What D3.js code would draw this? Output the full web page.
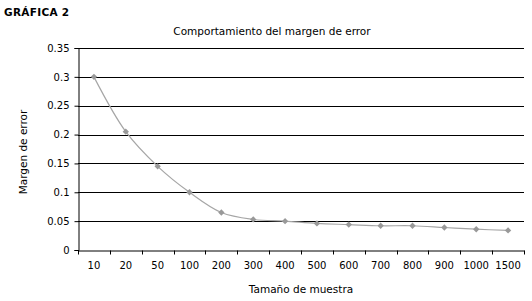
<!DOCTYPE html>
<html>
<head>
<meta charset="utf-8">
<script src="https://cdn.jsdelivr.net/npm/d3@7"></script>
<style>
    body { margin: 0; background: #fff; }
    text { font-family: 'DejaVu Sans', sans-serif; fill: #000; }
</style>
</head>
<body>
<div id="viz"></div>
<script>
const sizes = ['10', '20', '50', '100', '200', '300', '400', '500', '600', '700', '800', '900', '1000', '1500']
const errors = [0.30, 0.205, 0.145, 0.10, 0.065, 0.053, 0.05, 0.046, 0.044, 0.042, 0.042, 0.039, 0.036, 0.034]
const yTicks = [0, 0.05, 0.1, 0.15, 0.2, 0.25, 0.3, 0.35]

const data = sizes.map((s, i) => ({ size: s, err: errors[i] }))

render = (data) => {
    const w = 532, h = 301
    const margin = { top: 48, right: 8, bottom: 51, left: 78 }
    const innerWidth = w - margin.left - margin.right
    const innerHeight = h - margin.top - margin.bottom

    const svg = d3.select('#viz')
        .append('svg')
        .attr('width', w)
        .attr('height', h)

    svg.append('text')
        .attr('x', 4)
        .attr('y', 16)
        .style('font-size', '10.5px')
        .style('font-weight', '600')
        .style('letter-spacing', '0.3px')
        .text('GRÁFICA 2')

    svg.append('text')
        .attr('x', 272)
        .attr('y', 35)
        .attr('text-anchor', 'middle')
        .style('font-size', '10.5px')
        .text('Comportamiento del margen de error')

    const g = svg.append('g')
        .attr('transform', `translate(${margin.left}, ${margin.top})`)

    const x = d3.scaleBand()
        .domain(data.map(d => d.size))
        .range([0, innerWidth])

    const y = d3.scaleLinear()
        .domain([0, 0.35])
        .range([innerHeight, 0])

    // grid
    g.selectAll('.grid')
        .data(yTicks.slice(1))
        .enter()
        .append('line')
        .attr('x1', 0)
        .attr('x2', innerWidth)
        .attr('y1', d => Math.round(y(d)) + 0.5)
        .attr('y2', d => Math.round(y(d)) + 0.5)
        .attr('stroke', '#000')

    const yAxisG = g.append('g')
        .attr('transform', 'translate(0.5,0)')
        .call(d3.axisLeft(y).tickValues(yTicks).tickSize(4).tickPadding(5).tickFormat(d3.format('')))
    yAxisG.selectAll('text').style('font-size', '10px')

    const xAxisG = g.append('g')
        .attr('transform', `translate(0, ${innerHeight + 0.5})`)
        .call(d3.axisBottom(x).tickSize(0).tickPadding(11))
    xAxisG.selectAll('text').style('font-size', '10px')
    // tick marks sit between categories
    xAxisG.selectAll('.band-tick')
        .data(x.domain().concat(['end']))
        .enter()
        .append('line')
        .attr('x1', (d, i) => Math.round(i * x.step()) + 0.5)
        .attr('x2', (d, i) => Math.round(i * x.step()) + 0.5)
        .attr('y1', 0)
        .attr('y2', 4)
        .attr('stroke', '#000')

    g.append('text')
        .attr('transform', 'rotate(-90)')
        .attr('x', -innerHeight / 2 - 3)
        .attr('y', -51)
        .attr('text-anchor', 'middle')
        .style('font-size', '10.5px')
        .text('Margen de error')

    g.append('text')
        .attr('x', 223)
        .attr('y', innerHeight + 43)
        .attr('text-anchor', 'middle')
        .style('font-size', '10.5px')
        .text('Tamaño de muestra')

    const line = d3.line()
        .x(d => x(d.size) + x.bandwidth() / 2)
        .y(d => y(d.err))
        .curve(d3.curveCatmullRom.alpha(0.5))

    g.append('path')
        .datum(data)
        .attr('fill', 'none')
        .attr('stroke', '#a6a6a6')
        .attr('stroke-width', 1.2)
        .attr('d', line)

    g.selectAll('.pt')
        .data(data)
        .enter()
        .append('path')
        .attr('d', d3.symbol(d3.symbolSquare, 20))
        .attr('transform', d => `translate(${x(d.size) + x.bandwidth() / 2}, ${y(d.err)}) rotate(45)`)
        .attr('fill', '#999')
}

render(data)
</script>
</body>
</html>
